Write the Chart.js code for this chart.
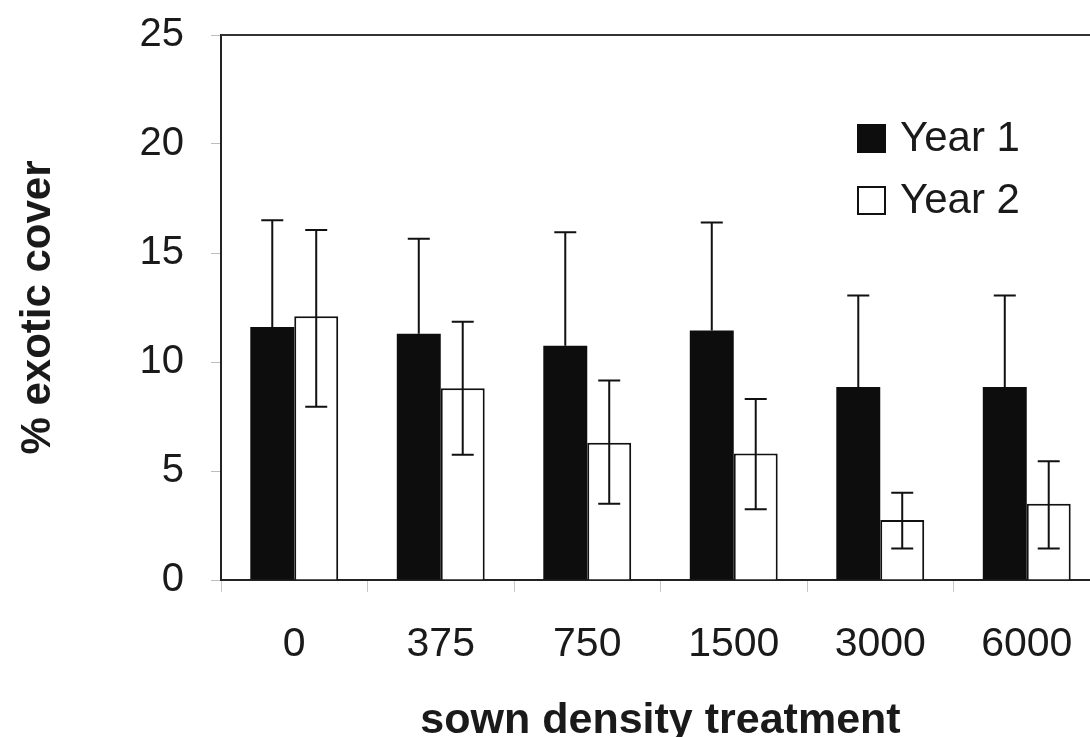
<!DOCTYPE html>
<html><head><meta charset="utf-8">
<script src="https://cdn.jsdelivr.net/npm/chart.js@4.4.0/dist/chart.umd.min.js"></script>
<style>
html,body{margin:0;padding:0;background:#fff;overflow:hidden;}
#wrap{width:1100px;height:747px;}
canvas{display:block;}
</style></head><body>
<div id="wrap"><canvas id="c" width="1100" height="747" style="width:1100px;height:747px"></canvas></div>
<script>
// ---- data ----
const categories = ['0', '375', '750', '1500', '3000', '6000'];
const seriesNames = ['Year 1', 'Year 2'];
const year1 = [11.6, 11.3, 10.75, 11.45, 8.85, 8.85];
const year1Upper = [16.5, 15.65, 15.95, 16.4, 13.05, 13.05];
const year2 = [12.1, 8.8, 6.3, 5.8, 2.75, 3.5];
const year2Lower = [7.95, 5.75, 3.5, 3.25, 1.45, 1.45];
const year2Upper = [16.05, 11.85, 9.15, 8.3, 4.0, 5.45];
const yTicks = [0, 5, 10, 15, 20, 25];
const xTitle = 'sown density treatment';
const yTitle = '% exotic cover';

const FONT = "'Liberation Sans', Arial, Helvetica, sans-serif";
const TXT = '#1a1a1a';

const errorBars = [
  { lower: null, upper: year1Upper },
  { lower: year2Lower, upper: year2Upper }
];

const errorBarPlugin = {
  id: 'errorBars',
  afterDatasetsDraw(chart) {
    const ctx = chart.ctx;
    const y = chart.scales.y;
    ctx.save();
    ctx.strokeStyle = '#111';
    ctx.lineWidth = 2;
    chart.data.datasets.forEach((ds, i) => {
      const meta = chart.getDatasetMeta(i);
      const eb = errorBars[i];
      meta.data.forEach((bar, j) => {
        const x = bar.x;
        const yTop = y.getPixelForValue(eb.upper[j]);
        const yBot = eb.lower ? y.getPixelForValue(eb.lower[j]) : y.getPixelForValue(ds.data[j]);
        const half = 11;
        ctx.beginPath();
        ctx.moveTo(x, yTop); ctx.lineTo(x, yBot);
        ctx.moveTo(x - half, yTop); ctx.lineTo(x + half, yTop);
        if (eb.lower) { ctx.moveTo(x - half, yBot); ctx.lineTo(x + half, yBot); }
        ctx.stroke();
      });
    });
    ctx.restore();
  }
};

const framePlugin = {
  id: 'frame',
  afterDraw(chart) {
    const { ctx, chartArea } = chart;
    ctx.save();
    ctx.strokeStyle = '#333';
    ctx.lineWidth = 2;
    ctx.beginPath();
    ctx.moveTo(chartArea.left, chartArea.top);
    ctx.lineTo(chartArea.right, chartArea.top);
    ctx.lineTo(chartArea.right, chartArea.bottom);
    ctx.stroke();
    ctx.restore();
  }
};

const legendPlugin = {
  id: 'innerLegend',
  afterDraw(chart) {
    const { ctx, chartArea } = chart;
    ctx.save();
    const bx = chartArea.left + 636;
    const by = chartArea.top + 89;
    const rowH = 62;
    const box = 29;
    ctx.font = '42px ' + FONT;
    ctx.textBaseline = 'alphabetic';
    ctx.textAlign = 'left';
    chart.data.datasets.forEach((ds, i) => {
      const top = by + i * rowH;
      ctx.fillStyle = ds.backgroundColor;
      ctx.fillRect(bx, top, box, box);
      if (ds.borderWidth) {
        ctx.strokeStyle = ds.borderColor;
        ctx.lineWidth = 2;
        ctx.strokeRect(bx + 1, top + 1, box - 2, box - 2);
      }
      ctx.fillStyle = TXT;
      ctx.fillText(ds.label, bx + 43, top + 27);
    });
    ctx.restore();
  }
};

new Chart(document.getElementById('c'), {
  type: 'bar',
  data: {
    labels: categories,
    datasets: [
      { label: seriesNames[0], data: year1, backgroundColor: '#0d0d0d', borderWidth: 0,
        categoryPercentage: 0.6, barPercentage: 1.0 },
      { label: seriesNames[1], data: year2, backgroundColor: '#ffffff', borderColor: '#111',
        borderWidth: 2, categoryPercentage: 0.6, barPercentage: 1.0 }
    ]
  },
  options: {
    responsive: false,
    animation: false,
    devicePixelRatio: 1,
    layout: { padding: { top: 35, right: 0, left: 0, bottom: 0 } },
    plugins: { legend: { display: false }, tooltip: { enabled: false } },
    scales: {
      x: {
        grid: { display: true, drawOnChartArea: false, drawTicks: true, tickLength: 12, color: '#c8c8c8', offset: true },
        border: { display: true, color: '#222', width: 2 },
        ticks: { color: TXT, font: { family: FONT, size: 41 }, padding: 28, maxRotation: 0 },
        title: { display: true, text: xTitle, color: TXT, font: { family: FONT, size: 43, weight: 'bold' },
                 padding: { top: 0, bottom: 0 } },
        afterFit(scale) { scale.height = 167; scale.paddingLeft = 0; scale.paddingRight = 0; }
      },
      y: {
        min: 0, max: 25,
        afterBuildTicks(scale) { scale.ticks = yTicks.map(v => ({ value: v })); },
        grid: { display: true, drawOnChartArea: false, drawTicks: true, tickLength: 10, color: '#bdbdbd' },
        border: { display: true, color: '#222', width: 2 },
        ticks: { color: TXT, font: { family: FONT, size: 40 }, padding: 27 },
        title: { display: true, text: yTitle, color: TXT, font: { family: FONT, size: 42, weight: 'bold' },
                 padding: { top: 13, bottom: 0 } },
        afterFit(scale) { scale.width = 221; scale.paddingTop = 0; scale.paddingBottom = 0; }
      }
    }
  },
  plugins: [errorBarPlugin, framePlugin, legendPlugin]
});
</script>
</body></html>
